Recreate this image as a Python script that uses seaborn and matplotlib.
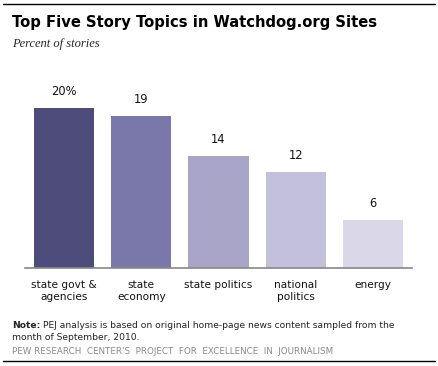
import matplotlib
matplotlib.use('Agg')

import pandas as pd
import matplotlib.pyplot as plt
import seaborn as sns

# Datos
temas = ["state govt &\nagencies", "state\neconomy", "state politics", "national\npolitics", "energy"]
porcentajes = [20, 19, 14, 12, 6]
etiquetas = ["20%", "19", "14", "12", "6"]
colores = ["#4e4c7b", "#7a77aa", "#a8a5c8", "#c3c0dc", "#dad8e8"]

df = pd.DataFrame({"tema": temas, "pct": porcentajes})

sns.set_theme(style="white")
plt.rcParams['font.family'] = ['DejaVu Sans']

W, H = 438, 366
fig = plt.figure(figsize=(W / 100, H / 100), dpi=100)
ax = fig.add_axes([25 / W, (H - 268) / H, 387 / W, 176 / H])

sns.barplot(data=df, x="tema", y="pct", hue="tema", palette=colores,
            width=0.78, legend=False, ax=ax, saturation=1, linewidth=0)

ax.set_xlim(-0.505, 4.505)
ax.set_ylim(0, 22)
ax.set_xlabel("")
ax.set_ylabel("")
ax.set_yticks([])
ax.set_xticks([])
for lado in ["top", "right", "left"]:
    ax.spines[lado].set_visible(False)
ax.spines["bottom"].set_color("#888888")
ax.spines["bottom"].set_linewidth(1.2)

# Etiquetas de valores y de categorías
for i, (v, t) in enumerate(zip(porcentajes, etiquetas)):
    ax.annotate(t, (i, v), xytext=(0, 7), textcoords="offset points",
                ha="center", va="bottom", fontsize=8.3, color="#111111")
    ax.annotate(temas[i], (i, 0), xytext=(0, -9), textcoords="offset points",
                ha="center", va="top", fontsize=7.6, color="#111111",
                linespacing=1.15)

# Título, subtítulo, notas
fig.text(12 / W, 1 - 22 / H, "Top Five Story Topics in Watchdog.org Sites",
         fontsize=10.6, fontweight="bold", va="center", ha="left", color="#000000")
fig.text(12 / W, 1 - 44 / H, "Percent of stories", fontsize=9,
         fontstyle="italic", family="Liberation Serif", va="center", ha="left")

nota = fig.text(12 / W, 1 - 326 / H, "Note:", fontsize=6.6, fontweight="bold",
                va="center", ha="left", color="#222222")
fig.canvas.draw()
ancho = nota.get_window_extent().width
fig.text((12 + ancho + 3) / W, 1 - 326 / H,
         "PEJ analysis is based on original home-page news content sampled from the",
         fontsize=6.6, va="center", ha="left", color="#222222")
fig.text(12 / W, 1 - 338 / H, "month of September, 2010.",
         fontsize=6.6, va="center", ha="left", color="#222222")
fig.text(12 / W, 1 - 352 / H, "PEW RESEARCH  CENTER'S  PROJECT  FOR  EXCELLENCE  IN  JOURNALISM",
         fontsize=6.3, va="center", ha="left", color="#8a8a8a")

# Líneas de borde superior e inferior
fig.add_artist(plt.Line2D([3 / W, 435 / W], [1 - 4 / H, 1 - 4 / H], color="black", lw=1))
fig.add_artist(plt.Line2D([3 / W, 435 / W], [1 - 361 / H, 1 - 361 / H], color="black", lw=1))

plt.savefig("out.png", dpi=100)
plt.close()
